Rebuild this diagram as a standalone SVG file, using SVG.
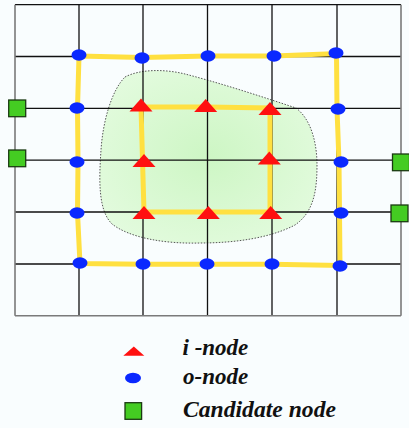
<svg xmlns="http://www.w3.org/2000/svg" width="409" height="428" viewBox="0 0 409 428">
<style>
.g{stroke:#111;stroke-width:1.3;fill:none}
.gg{stroke:#7a7a7a;stroke-width:1.6;fill:none}
.y{stroke:#ffe040;stroke-width:5;fill:none;stroke-linejoin:miter}
.tri{fill:#ff1010}
.ov{fill:#0a28ff}
.sq{fill:#44cc22;stroke:#1b3a12;stroke-width:1.3}
.lbl{font-family:"Liberation Serif","Times New Roman",serif;font-weight:bold;font-style:italic;font-size:23px;fill:#111}
</style>
<defs>
<radialGradient id="blobg" cx="0.5" cy="0.5" r="0.6">
<stop offset="0" stop-color="#cdf6c4"/>
<stop offset="1" stop-color="#e3fbde"/>
</radialGradient>
<path id="t" d="M0,-7 L11.5,6 L-11.5,6 Z"/>
</defs>
<rect x="0" y="0" width="409" height="428" fill="#f9fdfe"/>
<path id="blob" d="M125,77 C140,69 165,69 185,74 C220,83 260,96 296,108 C312,120 317,145 317,165 C317,190 314,212 295,225 C270,238 235,243 200,243 C165,244 130,238 112,224 C98,210 99,180 101,150 C103,120 112,90 125,77 Z" fill="url(#blobg)" stroke="#555" stroke-width="1" stroke-dasharray="1.5 1.5"/>
<g id="grid">
<path class="g" d="M15,4.7H401 M15,56.5H401 M15,108.3H401 M15,160.2H401 M15,212H401 M15,264H401"/>
<path class="g" d="M79,4.7V315.7 M143,4.7V315.7 M207.5,4.7V315.7 M272,4.7V315.7 M337,4.7V315.7"/>
<path class="gg" d="M15,4.7V315.7 M401,4.7V315.7 M15,315.7H401"/>
</g>
<g id="connectors">
<path class="y" d="M79,56 L142,57.5 L208,56 L274,56 L336.5,53.5 L337,109 L339,162 L339.5,213 L340,265.5 L272,264.3 L208,264.3 L143,264.3 L80,263.5 L77.5,213 L78,162 L77.5,108 Z"/>
<path class="y" d="M141,107 L206,107 L270,108 L270,212 L208,212 L144,212 Z"/>
</g>
<g id="o-nodes">
<ellipse id="o1" class="ov" cx="79" cy="55" rx="7.5" ry="5.7"/>
<ellipse id="o2" class="ov" cx="142" cy="58" rx="7.5" ry="5.7"/>
<ellipse id="o3" class="ov" cx="208" cy="56" rx="7.5" ry="5.7"/>
<ellipse id="o4" class="ov" cx="274" cy="56" rx="7.5" ry="5.7"/>
<ellipse id="o5" class="ov" cx="336" cy="53" rx="7.5" ry="5.7"/>
<ellipse id="o6" class="ov" cx="338" cy="109" rx="7.5" ry="5.7"/>
<ellipse id="o7" class="ov" cx="341" cy="162" rx="7.5" ry="5.7"/>
<ellipse id="o8" class="ov" cx="341" cy="213" rx="7.5" ry="5.7"/>
<ellipse id="o9" class="ov" cx="340" cy="266" rx="7.5" ry="5.7"/>
<ellipse id="o10" class="ov" cx="272" cy="264" rx="7.5" ry="5.7"/>
<ellipse id="o11" class="ov" cx="207" cy="264" rx="7.5" ry="5.7"/>
<ellipse id="o12" class="ov" cx="143" cy="264" rx="7.5" ry="5.7"/>
<ellipse id="o13" class="ov" cx="80" cy="263" rx="7.5" ry="5.7"/>
<ellipse id="o14" class="ov" cx="77" cy="213" rx="7.5" ry="5.7"/>
<ellipse id="o15" class="ov" cx="77" cy="162" rx="7.5" ry="5.7"/>
<ellipse id="o16" class="ov" cx="77" cy="108" rx="7.5" ry="5.7"/>
</g>
<g id="i-nodes">
<use id="i1" class="tri" href="#t" x="141" y="105.5"/>
<use id="i2" class="tri" href="#t" x="205.7" y="106"/>
<use id="i3" class="tri" href="#t" x="270" y="109"/>
<use id="i4" class="tri" href="#t" x="144" y="161"/>
<use id="i5" class="tri" href="#t" x="269.3" y="158.5"/>
<use id="i6" class="tri" href="#t" x="144" y="213"/>
<use id="i7" class="tri" href="#t" x="208.3" y="213"/>
<use id="i8" class="tri" href="#t" x="270.7" y="213"/>
</g>
<g id="candidate-nodes">
<rect id="c1" class="sq" x="8.7" y="100" width="17" height="16.7"/>
<rect id="c2" class="sq" x="8.7" y="150" width="17" height="16.7"/>
<rect id="c3" class="sq" x="392.5" y="154" width="17" height="16.7"/>
<rect id="c4" class="sq" x="391" y="205" width="17" height="16.7"/>
</g>
<g id="legend">
<g id="legend-i"><path class="tri" d="M123.3,355.7 L144.3,355.7 L133.8,346.5 Z"/><text class="lbl" x="182.5" y="355">i -node</text></g>
<g id="legend-o"><ellipse class="ov" cx="133" cy="378" rx="8" ry="5.2"/><text class="lbl" x="183" y="384">o-node</text></g>
<g id="legend-c"><rect class="sq" x="125" y="402.7" width="16.6" height="16.6"/><text class="lbl" x="183" y="417" textLength="153" lengthAdjust="spacingAndGlyphs">Candidate node</text></g>
</g>
</svg>
